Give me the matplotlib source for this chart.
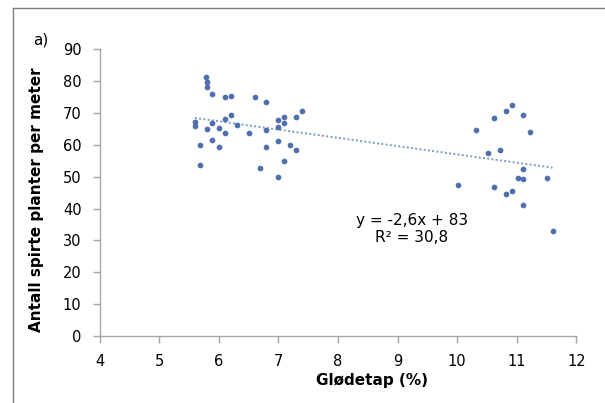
import matplotlib
matplotlib.use("Agg")
import matplotlib.pyplot as plt
import numpy as np
from matplotlib.lines import Line2D

# Data
x_values = [5.6, 5.6, 5.79, 5.8, 5.8, 5.89, 5.8, 5.69, 5.69, 5.89, 5.89, 6.0, 6.0,
            6.1, 6.2, 6.1, 6.2, 6.1, 6.3, 6.5, 6.6, 6.8, 6.8, 6.8, 6.7, 7.0, 7.0,
            7.0, 7.0, 7.1, 7.1, 7.1, 7.2, 7.3, 7.3, 7.4,
            10.01, 10.31, 10.51, 10.61, 10.61, 10.72, 10.82, 10.82, 10.92, 10.92,
            11.02, 11.11, 11.11, 11.11, 11.11, 11.22, 11.5, 11.6]
y_values = [67.2, 66.0, 81.4, 79.7, 78.2, 75.9, 65.1, 60.0, 53.7, 66.9, 61.6, 65.3, 59.2,
            75.1, 75.3, 68.0, 69.4, 63.8, 66.3, 63.8, 75.1, 73.4, 64.7, 59.4, 52.7, 67.8, 65.5,
            61.3, 49.9, 68.6, 66.9, 54.9, 60.1, 68.9, 58.3, 70.6,
            47.3, 64.6, 57.5, 68.3, 46.9, 58.5, 70.6, 44.6, 72.6, 45.4,
            49.6, 69.4, 52.4, 49.2, 41.1, 64.0, 49.5, 32.8]
trend_slope = -2.6
trend_intercept = 83
x_ticks = [4, 5, 6, 7, 8, 9, 10, 11, 12]
y_ticks = [0, 10, 20, 30, 40, 50, 60, 70, 80, 90]
equation_text = "y = -2,6x + 83\nR² = 30,8"
panel_label = "a)"
x_label = "Glødetap (%)"
y_label = "Antall spirte planter per meter"

plt.rcParams['font.family'] = ['DejaVu Sans']

fig = plt.figure(figsize=(6.05, 4.03), dpi=100)
ax = fig.add_axes([0.1645, 0.1663, 0.9527 - 0.1645, 0.8777 - 0.1663])

marker_color = "#4f6fad"
ax.scatter(x_values, y_values, s=17, color=marker_color, zorder=3, linewidths=0)

xs = np.array([min(x_values), max(x_values)])
ax.plot(xs, trend_slope * xs + trend_intercept, linestyle=(0, (1, 1.2)),
        color="#7f97c8", linewidth=1.4, zorder=2)

ax.set_xlim(4, 12)
ax.set_ylim(0, 90)
ax.set_xticks(x_ticks)
ax.set_yticks(y_ticks)
ax.tick_params(axis='both', direction='out', length=5, width=1, color="#a6a6a6",
               labelsize=10.5, pad=3)
ax.tick_params(axis='x', pad=8)
ax.tick_params(axis='y', pad=8)
for side in ['top', 'right']:
    ax.spines[side].set_visible(False)
for side in ['left', 'bottom']:
    ax.spines[side].set_color("#a6a6a6")
    ax.spines[side].set_linewidth(1)

ax.set_xlabel(x_label, fontsize=11, fontweight='bold')
ax.set_ylabel(y_label, fontsize=11, fontweight='bold')
ax.xaxis.set_label_coords(0.571, -0.13)
ax.yaxis.set_label_coords(-0.117, 0.474)

ax.text(9.24, 33.5, equation_text, ha='center', va='center', fontsize=11,
        linespacing=1.2)

fig.text(33 / 605, 1 - 40 / 403, panel_label, fontsize=11, ha='left', va='center')

# outer chart border (left and top visible)
fig.add_artist(Line2D([13 / 605, 13 / 605], [0, 1 - 8 / 403], color="#7f7f7f", lw=1,
                      transform=fig.transFigure))
fig.add_artist(Line2D([13 / 605, 1], [1 - 8 / 403, 1 - 8 / 403], color="#7f7f7f", lw=1,
                      transform=fig.transFigure))

fig.savefig("out.png", dpi=100)
